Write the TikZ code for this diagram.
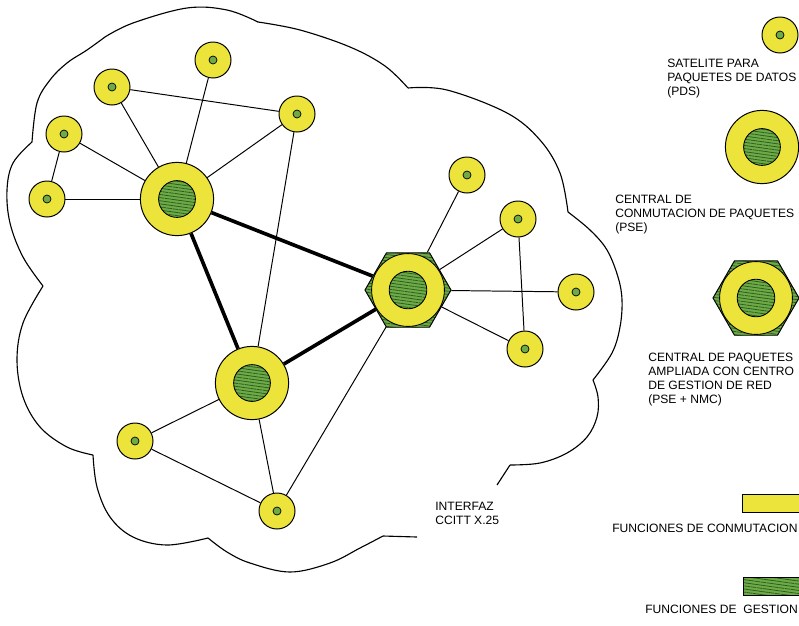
\documentclass[tikz,border=0pt]{standalone}
\usepackage{fontspec}
\setmainfont{Liberation Sans}
\usetikzlibrary{shapes.geometric,patterns.meta}

\definecolor{conmut}{RGB}{236,228,58}
\definecolor{gestion}{RGB}{112,170,70}
\definecolor{gestionline}{RGB}{38,96,32}

% disco verde rayado en el centro del nodo
\newcommand{\gestiondisc}[1]{%
  \fill[gestion] (path picture bounding box.center) circle (#1);
  \fill[pattern={Lines[angle=-8,distance=2.2pt,line width=0.55pt]}, pattern color=gestionline]
    (path picture bounding box.center) circle (#1);
  \draw[line width=0.6pt] (path picture bounding box.center) circle (#1);
}
% hexagono: esquinas rayadas, anillo amarillo, disco verde
\newcommand{\nmcfill}{%
  \fill[pattern={Lines[angle=-8,distance=2.2pt,line width=0.55pt]}, pattern color=gestionline]
    (path picture bounding box.south west) rectangle (path picture bounding box.north east);
  \filldraw[fill=conmut, line width=0.6pt] (path picture bounding box.center) circle (0.91cm);
  \gestiondisc{0.47cm}
}

\tikzset{
  pds/.style={circle, draw, line width=0.7pt, fill=conmut, minimum size=0.9cm, inner sep=0pt,
    path picture={\filldraw[fill=gestion, line width=0.5pt] (path picture bounding box.center) circle (0.1cm);}},
  pse/.style={circle, draw, line width=0.7pt, fill=conmut, minimum size=1.83cm, inner sep=0pt,
    path picture={\gestiondisc{0.46cm}}},
  psenmc/.style={regular polygon, regular polygon sides=6, draw, line width=0.7pt, fill=gestion,
    minimum size=2.15cm, inner sep=0pt, path picture={\nmcfill}},
  link/.style={line width=0.7pt},
  trunk/.style={line width=2.6pt},
  cloud/.style={line width=0.8pt},
  txt/.style={align=left, anchor=north west, inner sep=0pt, font=\fontsize{8.6}{10}\selectfont}
}

\begin{document}
\begin{tikzpicture}[x=0.025cm, y=-0.025cm]
    \useasboundingbox (0,0) rectangle (799,625);
    \clip (0,0) rectangle (799,625);

    % contorno de la nube (lobulo por lobulo)
    \draw[cloud] plot[smooth, tension=0.6] coordinates {(105,37) (133,23) (187,8) (227,10) (258,22)};
    \draw[cloud] plot[smooth, tension=0.6] coordinates {(258,22) (300,30) (350,47) (385,66) (408,88)};
    \draw[cloud] plot[smooth, tension=0.6] coordinates {(408,88) (447,90) (507,113) (540,140) (560,173) (568,212)};
    \draw[cloud] plot[smooth, tension=0.6] coordinates {(568,212) (590,230) (607,250) (618,277) (622,300) (620,327) (612,353) (593,380)};
    \draw[cloud] plot[smooth, tension=0.6] coordinates {(593,380) (598,397) (597,417) (587,437) (567,453) (540,463) (510,465)};
    \draw[cloud] (510,465) -- (497,485);
    \draw[cloud] (417,537) -- (383,536);
    \draw[cloud] plot[smooth, tension=0.6] coordinates {(383,536) (360,548) (330,563) (290,572) (250,563) (227,552) (208,538)};
    \draw[cloud] plot[smooth, tension=0.6] coordinates {(208,538) (167,545) (133,537) (110,517) (97,487) (93,455)};
    \draw[cloud] plot[smooth, tension=0.6] coordinates {(93,455) (67,447) (40,427) (23,397) (17,360) (23,323) (43,286)};
    \draw[cloud] plot[smooth, tension=0.6] coordinates {(43,286) (23,257) (10,223) (7,190) (13,163) (32,142)};
    \draw[cloud] plot[smooth, tension=0.6] coordinates {(32,142) (37,103) (50,80) (67,63) (87,50) (105,37)};

    % centrales
    \node[pse] (pse1) at (177,199) {};
    \node[pse] (pse2) at (252,383) {};
    \node[psenmc] (nmc) at (408,290) {};

    % satelites
    \node[pds] (s1) at (213,60) {};
    \node[pds] (s2) at (112,87) {};
    \node[pds] (s3) at (297,114) {};
    \node[pds] (s4) at (64,134) {};
    \node[pds] (s5) at (47,199) {};
    \node[pds] (s6) at (467,175) {};
    \node[pds] (s7) at (518,219) {};
    \node[pds] (s8) at (576,292) {};
    \node[pds] (s9) at (525,349) {};
    \node[pds] (s10) at (135,441) {};
    \node[pds] (s11) at (277,511) {};

    % enlaces troncales
    \draw[trunk] (pse1) -- (pse2);
    \draw[trunk] (pse1) -- (nmc);
    \draw[trunk] (pse2) -- (nmc);

    % enlaces de acceso
    \foreach \s in {s1,s2,s3,s4,s5}
        \draw[link] (pse1) -- (\s);
    \foreach \s in {s6,s7,s8,s9,s11}
        \draw[link] (nmc) -- (\s);
    \draw[link] (s4) -- (s5);
    \draw[link] (s2) -- (s3);
    \draw[link] (s3) -- (pse2);
    \draw[link] (s7) -- (s9);
    \draw[link] (pse2) -- (s10);
    \draw[link] (pse2) -- (s11);
    \draw[link] (s10) -- (s11);

    \node[txt] (interfaz) at (435,502) {INTERFAZ\\CCITT X.25};

    % leyenda
    \node[pds] (keyPds) at (780,35) {};
    \node[txt] (txtPds) at (667,59) {SATELITE PARA\\PAQUETES DE DATOS\\(PDS)};
    \node[pse] (keyPse) at (762,147) {};
    \node[txt] (txtPse) at (615,195) {CENTRAL DE\\CONMUTACION DE PAQUETES\\(PSE)};
    \node[psenmc] (keyNmc) at (756,298) {};
    \node[txt] (txtNmc) at (648,353) {CENTRAL DE PAQUETES\\AMPLIADA CON CENTRO\\DE GESTION DE RED\\(PSE + NMC)};

    \filldraw[fill=conmut, line width=0.7pt] (742,494) rectangle (810,512);
    \node[txt] (txtConm) at (612,524) {FUNCIONES DE CONMUTACION};
    \fill[gestion] (743,577) rectangle (810,595);
    \fill[pattern={Lines[angle=-8,distance=2.2pt,line width=0.55pt]}, pattern color=gestionline] (743,577) rectangle (810,595);
    \draw[line width=0.5pt] (743,577) rectangle (810,595);
    \node[txt] (txtGest) at (645,605) {FUNCIONES DE\ \ GESTION};
\end{tikzpicture}
\end{document}
